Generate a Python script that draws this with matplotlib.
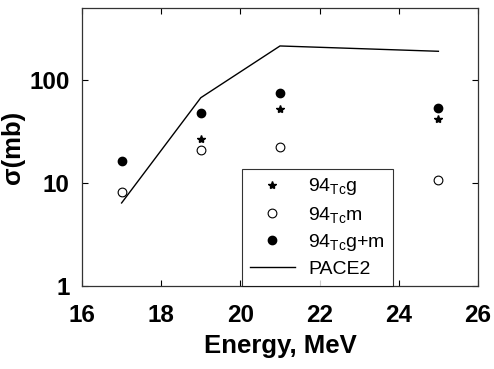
import matplotlib
matplotlib.use("Agg")
import matplotlib.pyplot as plt
from matplotlib.ticker import FixedLocator, NullLocator

energy = [17, 19, 21, 25]
tc_g = [8.0, 26.6, 52.6, 42.1]
tc_m = [8.2, 20.9, 22.2, 10.7]
tc_gm = [16.4, 47.8, 75.3, 53.5]
pace2 = [6.4, 67.3, 214, 190]

xticks = [16, 18, 20, 22, 24, 26]
yticks = [1, 10, 100]
ytick_labels = ["1", "10", "100"]

plt.rcParams['font.family'] = ['Liberation Sans', 'DejaVu Sans']
plt.rcParams['mathtext.fontset'] = 'custom'
plt.rcParams['mathtext.rm'] = 'Liberation Sans'

fig = plt.figure(figsize=(4.94, 3.69), dpi=100)
ax = fig.add_axes([82/494, 1-286/369, (478-82)/494, (286-8)/369])

ax.plot(energy, tc_g, linestyle='none', marker='*', color='black', markersize=6,
        label=r'$\mathregular{94_{Tc}g}$')
ax.plot(energy, tc_m, linestyle='none', marker='o', markerfacecolor='white',
        markeredgecolor='black', markeredgewidth=0.8, markersize=6.3,
        label=r'$\mathregular{94_{Tc}m}$')
ax.plot(energy, tc_gm, linestyle='none', marker='o', color='black', markersize=6,
        label=r'$\mathregular{94_{Tc}g{+}m}$')
ax.plot(energy, pace2, color='black', linewidth=1.0, label='PACE2')

ax.set_yscale('log')
ax.set_xlim(16, 26)
ax.set_ylim(1, 500)
ax.xaxis.set_major_locator(FixedLocator(xticks))
ax.yaxis.set_major_locator(FixedLocator(yticks))
ax.yaxis.set_minor_locator(NullLocator())
ax.set_yticklabels(ytick_labels)
ax.set_xticklabels([str(t) for t in xticks])

ax.tick_params(direction='in', top=True, right=True, length=4, width=0.8)
ax.tick_params(axis='x', pad=13, labelsize=17.5)
ax.tick_params(axis='y', pad=9, labelsize=17.5)
for lab in ax.get_xticklabels() + ax.get_yticklabels():
    lab.set_fontweight('bold')
for s in ax.spines.values():
    s.set_linewidth(0.9)
    s.set_color('#333333')

ax.set_xlabel('Energy, MeV', fontsize=18.5, fontweight='bold', labelpad=5)
ax.set_ylabel('σ(mb)', fontsize=18.5, fontweight='bold')
ax.yaxis.set_label_coords((25-82)/396, 0.5)

leg = ax.legend(loc='lower left', fontsize=14, frameon=True, fancybox=False,
                edgecolor='black', borderpad=0.4, handlelength=2.3,
                labelspacing=0.38, handletextpad=0.7, borderaxespad=0)
leg.set_bbox_to_anchor(((242-82)/396, 0), transform=ax.transAxes)
leg.get_frame().set_linewidth(0.8)

fig.savefig('out.png', dpi=100)
